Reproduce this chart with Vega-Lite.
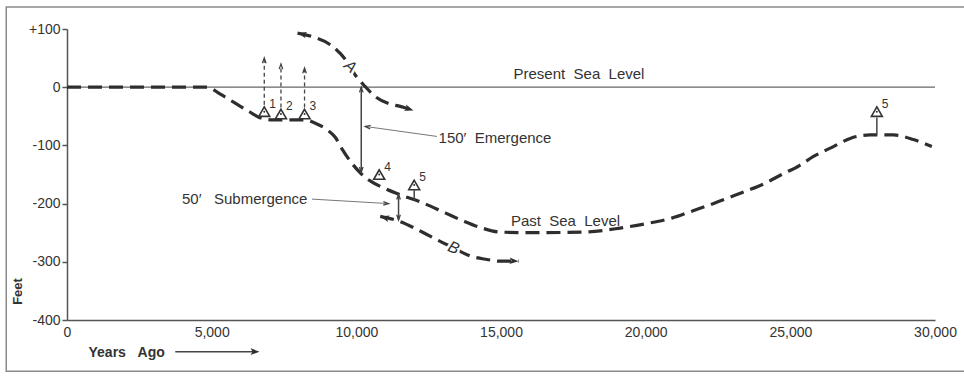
{
  "$schema": "https://vega.github.io/schema/vega-lite/v6.json",
  "width": 868,
  "height": 291,
  "autosize": {"type": "none"},
  "padding": {"left": 67, "top": 29, "right": 29, "bottom": 62},
  "background": "white",
  "config": {
    "view": {"stroke": null},
    "font": "Liberation Sans",
    "axis": {"grid": false}
  },
  "datasets": {
    "curves": [
      {"s": "past", "o": 0, "x": 0, "y": 0},
      {"s": "past", "o": 1, "x": 4850, "y": 0},
      {"s": "past", "o": 2, "x": 5300, "y": -12},
      {"s": "past", "o": 3, "x": 5800, "y": -27},
      {"s": "past", "o": 4, "x": 6300, "y": -42},
      {"s": "past", "o": 5, "x": 6700, "y": -53},
      {"s": "past", "o": 6, "x": 7100, "y": -56},
      {"s": "past", "o": 7, "x": 8234, "y": -56},
      {"s": "past", "o": 8, "x": 8580, "y": -62},
      {"s": "past", "o": 9, "x": 8984, "y": -73},
      {"s": "past", "o": 10, "x": 9271, "y": -86},
      {"s": "past", "o": 11, "x": 9503, "y": -106},
      {"s": "past", "o": 12, "x": 9789, "y": -127},
      {"s": "past", "o": 13, "x": 10135, "y": -147},
      {"s": "past", "o": 14, "x": 10480, "y": -161},
      {"s": "past", "o": 15, "x": 10940, "y": -173},
      {"s": "past", "o": 16, "x": 11517, "y": -185},
      {"s": "past", "o": 17, "x": 12208, "y": -197},
      {"s": "past", "o": 18, "x": 13072, "y": -216},
      {"s": "past", "o": 19, "x": 13704, "y": -230},
      {"s": "past", "o": 20, "x": 14340, "y": -242},
      {"s": "past", "o": 21, "x": 14972, "y": -249},
      {"s": "past", "o": 22, "x": 16009, "y": -250},
      {"s": "past", "o": 23, "x": 17841, "y": -249},
      {"s": "past", "o": 24, "x": 19119, "y": -242},
      {"s": "past", "o": 25, "x": 20270, "y": -232},
      {"s": "past", "o": 26, "x": 20905, "y": -225},
      {"s": "past", "o": 27, "x": 21596, "y": -213},
      {"s": "past", "o": 28, "x": 22229, "y": -202},
      {"s": "past", "o": 29, "x": 22861, "y": -190},
      {"s": "past", "o": 30, "x": 23497, "y": -178},
      {"s": "past", "o": 31, "x": 24129, "y": -165},
      {"s": "past", "o": 32, "x": 24700, "y": -150},
      {"s": "past", "o": 33, "x": 25300, "y": -135},
      {"s": "past", "o": 34, "x": 25800, "y": -119},
      {"s": "past", "o": 35, "x": 26490, "y": -102},
      {"s": "past", "o": 36, "x": 27066, "y": -88},
      {"s": "past", "o": 37, "x": 27757, "y": -82},
      {"s": "past", "o": 38, "x": 28563, "y": -82},
      {"s": "past", "o": 39, "x": 29254, "y": -90},
      {"s": "past", "o": 40, "x": 29890, "y": -102},
      {"s": "A", "o": 0, "x": 7968, "y": 93},
      {"s": "A", "o": 1, "x": 8466, "y": 87},
      {"s": "A", "o": 2, "x": 9098, "y": 73},
      {"s": "A", "o": 3, "x": 9675, "y": 44},
      {"s": "A", "o": 4, "x": 9962, "y": 21},
      {"s": "A", "o": 5, "x": 10308, "y": 1},
      {"s": "A", "o": 6, "x": 10653, "y": -16},
      {"s": "A", "o": 7, "x": 11113, "y": -28},
      {"s": "A", "o": 8, "x": 11517, "y": -33},
      {"s": "A", "o": 9, "x": 11977, "y": -40},
      {"s": "B", "o": 0, "x": 10826, "y": -222},
      {"s": "B", "o": 1, "x": 11459, "y": -230},
      {"s": "B", "o": 2, "x": 12208, "y": -247},
      {"s": "B", "o": 3, "x": 12899, "y": -265},
      {"s": "B", "o": 4, "x": 13360, "y": -276},
      {"s": "B", "o": 5, "x": 13936, "y": -290},
      {"s": "B", "o": 6, "x": 14513, "y": -296},
      {"s": "B", "o": 7, "x": 14972, "y": -299},
      {"s": "B", "o": 8, "x": 15605, "y": -299}
    ],
    "markers": [
      {"x": 6818, "y": -42, "n": "1"},
      {"x": 7395, "y": -46, "n": "2"},
      {"x": 8210, "y": -46, "n": "3"},
      {"x": 10791, "y": -150, "n": "4"},
      {"x": 12000, "y": -168, "n": "5"},
      {"x": 27990, "y": -42, "n": "5"}
    ],
    "upStems": [
      {"x": 6818, "y": -30, "y2": 48},
      {"x": 7395, "y": -35, "y2": 38},
      {"x": 8210, "y": -35, "y2": 31}
    ],
    "solidLines": [
      {"x": 10170, "x2": 10170, "y": 0, "y2": -146},
      {"x": 11459, "x2": 11459, "y": -184, "y2": -228},
      {"x": 12000, "x2": 12000, "y": -177, "y2": -194},
      {"x": 27990, "x2": 27990, "y": -52, "y2": -81},
      {"x": 3742, "x2": 6500, "y": -454.4, "y2": -454.4}
    ],
    "leaders": [
      {"x": 12785, "x2": 10308, "y": -84.6, "y2": -67.4},
      {"x": 8466, "x2": 11113, "y": -192.3, "y2": -200}
    ],
    "solidHeads": [
      {"x": 7968, "y": 93, "heading": 283},
      {"x": 11977, "y": -40, "heading": 108},
      {"x": 10826, "y": -222, "heading": 285},
      {"x": 15605, "y": -299, "heading": 93},
      {"x": 6655, "y": -454.4, "heading": 90}
    ],
    "openHeads": [
      {"x": 6818, "y": 50, "heading": 0},
      {"x": 7395, "y": 40, "heading": 0},
      {"x": 8210, "y": 33, "heading": 0},
      {"x": 10170, "y": 0, "heading": 0},
      {"x": 10170, "y": -146, "heading": 180},
      {"x": 11459, "y": -184, "heading": 0},
      {"x": 11459, "y": -228, "heading": 180},
      {"x": 10308, "y": -67.4, "heading": 278},
      {"x": 11113, "y": -200, "heading": 93}
    ],
    "notes": [
      {"x": 15432, "y": 23, "t": "Present\u00a0\u00a0Sea\u00a0\u00a0Level"},
      {"x": 15342, "y": -230, "t": "Past\u00a0\u00a0Sea\u00a0\u00a0Level"},
      {"x": 12841, "y": -87, "t": "150\u2032\u00a0\u00a0Emergence"},
      {"x": 3974, "y": -191.5, "t": "50\u2032\u00a0\u00a0\u00a0Submergence"}
    ],
    "curveLetters": [
      {"x": 9789, "y": 35.5, "t": "A"},
      {"x": 13360, "y": -276, "t": "B"}
    ],
    "xMinor": [
      {"x": 1000}, {"x": 2000}, {"x": 3000}, {"x": 4000},
      {"x": 6000}, {"x": 7000}, {"x": 8000}, {"x": 9000},
      {"x": 11000}, {"x": 12000}, {"x": 13000}, {"x": 14000},
      {"x": 16000}, {"x": 17000}, {"x": 18000}, {"x": 19000},
      {"x": 21000}, {"x": 22000}, {"x": 23000}, {"x": 24000},
      {"x": 26000}, {"x": 27000}, {"x": 28000}, {"x": 29000}
    ],
    "xMajor": [
      {"x": 5000}, {"x": 10000}, {"x": 15000}, {"x": 20000}, {"x": 25000}
    ],
    "rightTicks": [
      {"y": 100}, {"y": -100}, {"y": -200}, {"y": -300}
    ]
  },
  "encoding": {
    "x": {
      "field": "x",
      "type": "quantitative",
      "scale": {"domain": [0, 30000], "nice": false, "zero": false},
      "axis": {
        "values": [0, 5000, 10000, 15000, 20000, 25000, 30000],
        "format": ",d",
        "ticks": false,
        "labelPadding": 5,
        "labelFontSize": 14,
        "labelColor": "#333",
        "labelFlush": false,
        "labelOverlap": false,
        "domainColor": "#555",
        "domainWidth": 1.5,
        "title": "Years\u00a0\u00a0\u00a0Ago",
        "titleAnchor": "start",
        "titleAlign": "left",
        "titleBaseline": "middle",
        "titleX": 21,
        "titleY": 32,
        "titleFontSize": 14,
        "titleFontWeight": "bold",
        "titleColor": "#333"
      }
    },
    "y": {
      "field": "y",
      "type": "quantitative",
      "scale": {"domain": [-400, 100], "nice": false, "zero": false},
      "axis": {
        "values": [-400, -300, -200, -100, 0, 100],
        "labelExpr": "datum.value > 0 ? '+' + datum.value : '' + datum.value",
        "tickSize": 5,
        "tickColor": "#555",
        "tickWidth": 1.5,
        "labelPadding": 2,
        "labelFontSize": 14,
        "labelColor": "#333",
        "labelFlush": false,
        "labelOverlap": false,
        "domainColor": "#555",
        "domainWidth": 1.5,
        "title": "Feet",
        "titleX": -50,
        "titleY": 262,
        "titleAngle": -90,
        "titleAlign": "center",
        "titleBaseline": "middle",
        "titleFontSize": 13,
        "titleFontWeight": "bold",
        "titleColor": "#333"
      }
    }
  },
  "layer": [
    {
      "data": {"values": [{"x": -2100, "x2": 32500, "y": 138, "y2": -488}]},
      "mark": {"type": "rect", "fillOpacity": 0, "stroke": "#8a8a8a", "strokeWidth": 1.5, "clip": false},
      "encoding": {"x2": {"field": "x2"}, "y2": {"field": "y2"}}
    },
    {
      "data": {"values": [{"x": 0, "x2": 30000, "y": 0}]},
      "mark": {"type": "rule", "color": "#666", "strokeWidth": 1.3},
      "encoding": {"x2": {"field": "x2"}}
    },
    {
      "data": {"values": [{"x": 30000}]},
      "mark": {"type": "rule", "color": "#555", "strokeWidth": 1.5},
      "encoding": {"y": {"datum": -400}, "y2": {"datum": 100}}
    },
    {
      "data": {"name": "rightTicks"},
      "mark": {"type": "rule", "color": "#555", "strokeWidth": 1.3},
      "encoding": {"x": {"datum": 29790}, "x2": {"datum": 30000}}
    },
    {
      "data": {"name": "xMinor"},
      "mark": {"type": "rule", "color": "#555", "strokeWidth": 1.2},
      "encoding": {"y": {"datum": -400}, "y2": {"datum": -391.4}}
    },
    {
      "data": {"name": "xMajor"},
      "mark": {"type": "rule", "color": "#555", "strokeWidth": 1.3},
      "encoding": {"y": {"datum": -400}, "y2": {"datum": -379.5}}
    },
    {
      "data": {"name": "curves"},
      "mark": {"type": "line", "color": "#2e2e2e", "strokeWidth": 3.2, "strokeDash": [14, 7], "interpolate": "monotone", "strokeCap": "butt", "clip": false},
      "encoding": {
        "detail": {"field": "s"},
        "order": {"field": "o", "type": "quantitative"}
      }
    },
    {
      "data": {"name": "upStems"},
      "mark": {"type": "rule", "color": "#444", "strokeWidth": 1.3, "strokeDash": [4, 3]},
      "encoding": {"y2": {"field": "y2"}}
    },
    {
      "data": {"name": "solidLines"},
      "mark": {"type": "rule", "color": "#444", "strokeWidth": 1.5, "clip": false},
      "encoding": {"x2": {"field": "x2"}, "y2": {"field": "y2"}}
    },
    {
      "data": {"name": "leaders"},
      "mark": {"type": "rule", "color": "#777", "strokeWidth": 1},
      "encoding": {"x2": {"field": "x2"}, "y2": {"field": "y2"}}
    },
    {
      "data": {"name": "solidHeads"},
      "mark": {"type": "point", "shape": "M0,0L0.55,1.5L0,1.15L-0.55,1.5Z", "size": 144, "filled": true, "color": "#2e2e2e", "opacity": 1, "clip": false},
      "encoding": {"angle": {"field": "heading", "type": "quantitative", "scale": null}}
    },
    {
      "data": {"name": "openHeads"},
      "mark": {"type": "point", "shape": "M-0.45,1.3L0,0L0.45,1.3", "size": 64, "filled": false, "color": "#444", "strokeWidth": 1.3, "opacity": 1},
      "encoding": {"angle": {"field": "heading", "type": "quantitative", "scale": null}}
    },
    {
      "data": {"name": "markers"},
      "mark": {"type": "point", "shape": "triangle-up", "size": 120, "filled": true, "fill": "white", "stroke": "#333", "strokeWidth": 1.6, "opacity": 1}
    },
    {
      "data": {"name": "markers"},
      "mark": {"type": "point", "shape": "circle", "size": 4, "filled": true, "color": "#333", "opacity": 1}
    },
    {
      "data": {"name": "markers"},
      "mark": {"type": "text", "align": "left", "baseline": "middle", "dx": 5, "dy": -8, "fontSize": 12, "color": "#333"},
      "encoding": {"text": {"field": "n"}}
    },
    {
      "data": {"name": "notes"},
      "mark": {"type": "text", "align": "left", "baseline": "middle", "fontSize": 15, "color": "#333"},
      "encoding": {"text": {"field": "t"}}
    },
    {
      "data": {"name": "curveLetters"},
      "transform": [{"filter": "datum.t === 'A'"}],
      "mark": {"type": "text", "align": "center", "baseline": "middle", "fontSize": 16, "fontStyle": "italic", "angle": 40, "color": "#333", "stroke": "white", "strokeWidth": 5},
      "encoding": {"text": {"field": "t"}}
    },
    {
      "data": {"name": "curveLetters"},
      "transform": [{"filter": "datum.t === 'A'"}],
      "mark": {"type": "text", "align": "center", "baseline": "middle", "fontSize": 16, "fontStyle": "italic", "angle": 40, "color": "#333"},
      "encoding": {"text": {"field": "t"}}
    },
    {
      "data": {"name": "curveLetters"},
      "transform": [{"filter": "datum.t === 'B'"}],
      "mark": {"type": "text", "align": "center", "baseline": "middle", "fontSize": 16, "fontStyle": "italic", "angle": 22, "color": "#333", "stroke": "white", "strokeWidth": 5},
      "encoding": {"text": {"field": "t"}}
    },
    {
      "data": {"name": "curveLetters"},
      "transform": [{"filter": "datum.t === 'B'"}],
      "mark": {"type": "text", "align": "center", "baseline": "middle", "fontSize": 16, "fontStyle": "italic", "angle": 22, "color": "#333"},
      "encoding": {"text": {"field": "t"}}
    }
  ]
}
